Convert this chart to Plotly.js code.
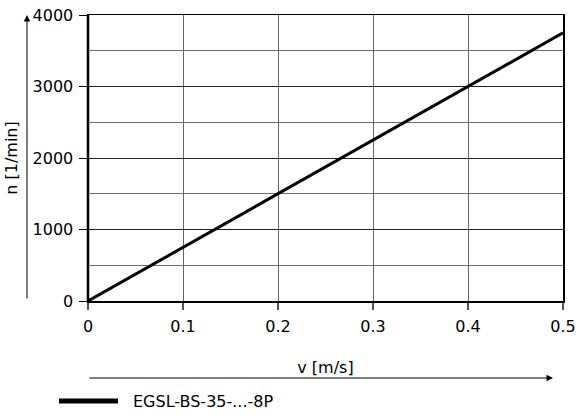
<!DOCTYPE html>
<html>
<head>
<meta charset="utf-8">
<script src="https://cdn.plot.ly/plotly-3.0.1.min.js"></script>
<style>html,body{margin:0;padding:0;background:#fff;}#chart{width:579px;height:415px;}</style>
</head>
<body>
<div id="chart"></div>
<script>
var speedV = [0, 0.5];
var rpmN = [0, 3750];
var seriesName = "EGSL-BS-35-...-8P";
var xTicks = [0, 0.1, 0.2, 0.3, 0.4, 0.5];
var yTicks = [0, 1000, 2000, 3000, 4000];

var FONT = "DejaVu Sans, sans-serif";
var FS = 16;
var L = 88, R = 16, T = 15, B = 114;
var W = 579, H = 415;
var pw = W - L - R, ph = H - T - B;
function px(x){ return (x - L) / pw; }
function py(y){ return (H - B - y) / ph; }

var trace = {
  x: speedV, y: rpmN, type: "scatter", mode: "lines", name: seriesName,
  line: {color: "#000", width: 3}, showlegend: false, hoverinfo: "skip"
};

var layout = {
  width: W, height: H,
  margin: {l: L, r: R, t: T, b: B},
  paper_bgcolor: "#fff", plot_bgcolor: "#fff",
  font: {family: FONT, size: FS, color: "#000"},
  showlegend: false,
  xaxis: {
    range: [0, 0.5], tickvals: xTicks, ticktext: xTicks.map(String),
    showgrid: true, gridcolor: "#666", gridwidth: 1,
    zeroline: false, showline: true, linecolor: "#000", linewidth: 1.5, mirror: true,
    ticks: "outside", ticklen: 7, tickcolor: "#555", tickwidth: 1.5,
    ticklabelstandoff: 3,
    tickfont: {family: FONT, size: FS},
    title: {text: "v [m/s]", font: {family: FONT, size: FS}, standoff: 27},
    automargin: false, fixedrange: true
  },
  yaxis: {
    range: [0, 4000], tickvals: yTicks, ticktext: yTicks.map(String),
    showgrid: true, gridcolor: "#222", gridwidth: 1,
    minor: {dtick: 500, showgrid: true, gridcolor: "#707070", gridwidth: 1, ticks: ""},
    zeroline: false, showline: true, linecolor: "#000", linewidth: 1.5, mirror: true,
    ticks: "outside", ticklen: 8, tickcolor: "#000", tickwidth: 1,
    ticklabelstandoff: 2,
    tickfont: {family: FONT, size: FS},
    title: {text: "n [1/min]", font: {family: FONT, size: FS}, standoff: 11},
    automargin: false, fixedrange: true
  },
  shapes: [
    {type: "line", xref: "paper", yref: "paper", x0: px(88), x1: px(88), y0: 0, y1: 1,
     line: {color: "#000", width: 2.5}},
    {type: "line", xref: "paper", yref: "paper", x0: px(59), x1: px(118), y0: py(401), y1: py(401),
     line: {color: "#000", width: 5}}
  ],
  annotations: [
    {xref: "paper", yref: "paper", x: px(27), y: py(15), ax: 0, ay: 285, axref: "pixel", ayref: "pixel",
     showarrow: true, arrowhead: 2, arrowsize: 1.3, arrowwidth: 1, arrowcolor: "#000", text: ""},
    {xref: "paper", yref: "paper", x: px(553), y: py(378), ax: -465, ay: 0, axref: "pixel", ayref: "pixel",
     showarrow: true, arrowhead: 2, arrowsize: 1.3, arrowwidth: 1, arrowcolor: "#000", text: ""},
    {xref: "paper", yref: "paper", x: px(131), y: py(401), xanchor: "left", yanchor: "middle",
     showarrow: false, text: seriesName, font: {family: FONT, size: FS, color: "#000"}}
  ]
};

Plotly.newPlot("chart", [trace], layout, {staticPlot: true, displayModeBar: false});
</script>
</body>
</html>
